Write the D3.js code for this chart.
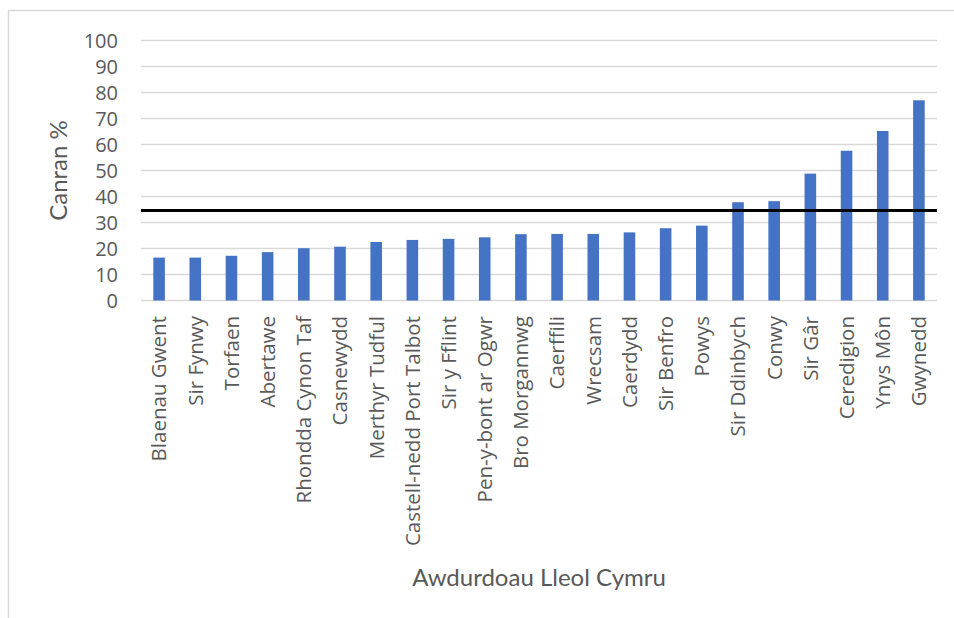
<!DOCTYPE html>
<html>
<head>
<meta charset="utf-8">
<script src="https://cdn.jsdelivr.net/npm/d3@7/dist/d3.min.js"></script>
<style>
  html, body { margin: 0; padding: 0; background: #fff; }
  svg { display: block; }
</style>
</head>
<body>
<svg id="chart" width="954" height="618"></svg>
<script>
const categories = ["Blaenau Gwent","Sir Fynwy","Torfaen","Abertawe","Rhondda Cynon Taf","Casnewydd","Merthyr Tudful","Castell-nedd Port Talbot","Sir y Fflint","Pen-y-bont ar Ogwr","Bro Morgannwg","Caerffili","Wrecsam","Caerdydd","Sir Benfro","Powys","Sir Ddinbych","Conwy","Sir Gâr","Ceredigion","Ynys Môn","Gwynedd"];
const values = [16.5,16.5,17.2,18.6,20.1,20.7,22.5,23.3,23.7,24.3,25.5,25.6,25.6,26.2,27.8,28.8,37.8,38.2,48.8,57.6,65.2,77.0];
const referenceValue = 34.6;
const yTicks = [0,10,20,30,40,50,60,70,80,90,100];
const xTitle = "Awdurdoau Lleol Cymru";
const yTitle = "Canran %";

(function () {
const svg = d3.select("#chart");
const pLeft = 141, pRight = 937, pTop = 40.5, pBottom = 300.5;
const textColor = "#595959";

// outer border
svg.append("rect").attr("x", 8.5).attr("y", 10.5).attr("width", 960).attr("height", 620)
  .attr("fill", "none").attr("stroke", "#d9d9d9").attr("stroke-width", 1.5);

const x = d3.scaleBand().domain(categories).range([pLeft, pRight]).paddingInner(0.68).paddingOuter(0.34);
const y = d3.scaleLinear().domain([0, 100]).range([pBottom, pTop]);

// gridlines
svg.append("g").selectAll("line").data(yTicks).join("line")
  .attr("x1", pLeft).attr("x2", pRight)
  .attr("y1", d => y(d)).attr("y2", d => y(d))
  .attr("stroke", "#d9d9d9").attr("stroke-width", 1.3);

// y tick labels
const yAxis = d3.axisLeft(y).tickValues(yTicks).tickSize(0).tickPadding(0);
const gy = svg.append("g").attr("transform", `translate(${pLeft - 23},0)`).call(yAxis);
gy.select(".domain").remove();
gy.selectAll("text").attr("font-family", "'Open Sans', sans-serif").attr("font-size", 20)
  .attr("fill", textColor).attr("dy", "0.36em");

// bars
svg.append("g").selectAll("rect").data(categories).join("rect")
  .attr("x", d => x(d)).attr("width", x.bandwidth())
  .attr("y", (d, i) => y(values[i])).attr("height", (d, i) => y(0) - y(values[i]))
  .attr("fill", "#4472C4");

// reference line
svg.append("line").attr("x1", pLeft).attr("x2", pRight)
  .attr("y1", y(referenceValue)).attr("y2", y(referenceValue))
  .attr("stroke", "#000").attr("stroke-width", 3);

// category labels
svg.append("g").selectAll("text").data(categories).join("text")
  .attr("transform", d => `translate(${x(d) + x.bandwidth() / 2},316) rotate(-90)`)
  .attr("text-anchor", "end").attr("dy", "0.36em")
  .attr("font-family", "'Open Sans', sans-serif").attr("font-size", 20.5)
  .attr("fill", textColor).text(d => d);

// axis titles
svg.append("text").attr("x", (pLeft + pRight) / 2).attr("y", 586)
  .attr("text-anchor", "middle").attr("font-family", "Lato, sans-serif").attr("font-size", 24)
  .attr("fill", textColor).text(xTitle);

svg.append("text").attr("transform", `translate(58.5,${(pTop + pBottom) / 2}) rotate(-90)`)
  .attr("text-anchor", "middle").attr("dy", "0.36em").attr("font-family", "Lato, sans-serif").attr("font-size", 24)
  .attr("fill", textColor).text(yTitle);
})();
</script>
</body>
</html>
